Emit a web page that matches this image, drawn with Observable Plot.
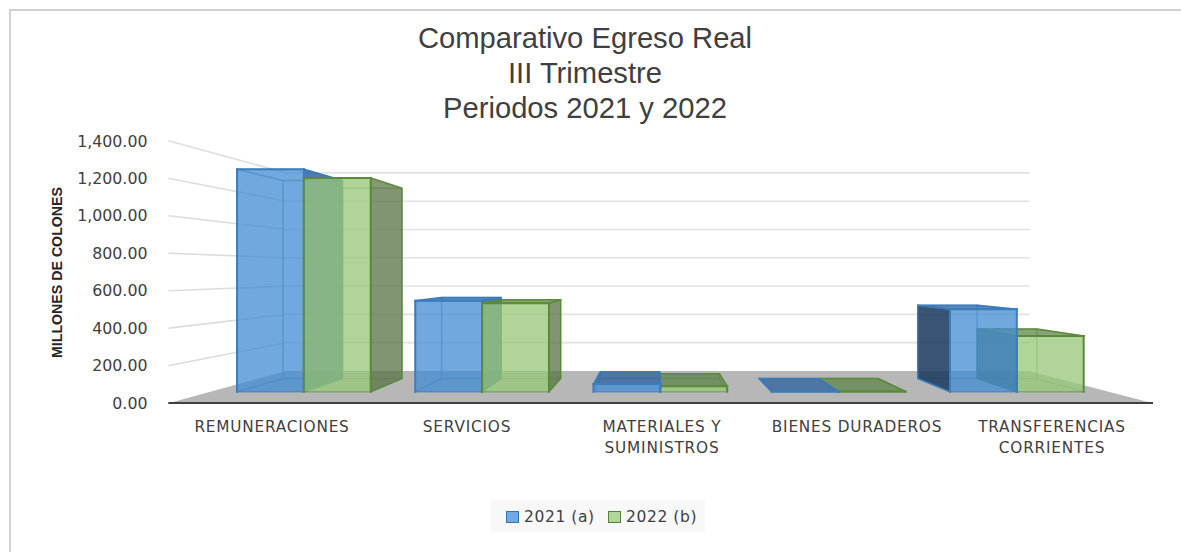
<!DOCTYPE html>
<html><head><meta charset="utf-8">
<script src="https://cdn.jsdelivr.net/npm/d3@7"></script>
<script src="https://cdn.jsdelivr.net/npm/@observablehq/plot@0.6"></script>
<style>
html,body{margin:0;padding:0;background:#fff}
#wrap{position:relative;width:1181px;height:552px;overflow:hidden;background:#fff}
#frame{position:absolute;left:8.5px;top:9px;right:-4px;bottom:-4px;border-left:2px solid #d2d2d2;border-top:2px solid #d2d2d2}
#title{position:absolute;left:0;width:1170px;top:20.5px;text-align:center;font:29.2px/35px "Liberation Sans",Arial,sans-serif;color:#404040}
#plot{position:absolute;left:0;top:130px}
#plot svg g[aria-label="x-axis tick label"]{letter-spacing:.8px}
#legend{position:absolute;left:491px;top:500px;width:214px;height:32px;background:#f8f8f8;font:15.5px/32px "DejaVu Sans",sans-serif;color:#404040}
#legend span{position:absolute;top:1px;white-space:nowrap;letter-spacing:.6px}
#legend i{position:absolute;top:11px;width:10.5px;height:9.5px;border:1.5px solid}
</style></head>
<body><div id="wrap"><div id="frame"></div>
<div id="title">Comparativo Egreso Real<br>III Trimestre<br>Periodos 2021 y 2022</div>
<div id="plot"></div>
<div id="legend"></div></div>
<script>
const categories = ["REMUNERACIONES","SERVICIOS","MATERIALES Y SUMINISTROS","BIENES DURADEROS","TRANSFERENCIAS CORRIENTES"];
const tickLabels = ["REMUNERACIONES","SERVICIOS","MATERIALES Y\nSUMINISTROS","BIENES DURADEROS","TRANSFERENCIAS\nCORRIENTES"];
const values2021 = [1300,532,45,1,482];
const values2022 = [1250,517,32,1,326];
const seriesNames = ["2021 (a)","2022 (b)"];
const yTicks = [0,200,400,600,800,1000,1200,1400];

const rows = categories.flatMap((category,i)=>[
  {category,year:0,value:values2021[i]},
  {category,year:1,value:values2022[i]}
]);

// Perspective of the 3-D box: screen point = vanishing point + (front-plane point - vanishing point) * s
const persp = {vx:647.5, barVx:655.9, vy:141.7, back:0.756, barFront:0.914, barBack:0.8138, barWidth:0.375, barShift:-0.75};
const P = (x,y,s,vx=persp.vx)=>[vx+(x-vx)*s, persp.vy+(y-persp.vy)*s];
const NS = "http://www.w3.org/2000/svg";
function poly(g,pts,fill,stroke,sw){
  const p=document.createElementNS(NS,"polygon");
  p.setAttribute("points",pts.map(d=>d.join(",")).join(" "));
  p.setAttribute("fill",fill); p.setAttribute("stroke",stroke||"none");
  p.setAttribute("stroke-width",sw||0); p.setAttribute("stroke-linejoin","round");
  g.appendChild(p);
}
function seg(g,a,b,stroke,sw){
  const l=document.createElementNS(NS,"line");
  l.setAttribute("x1",a[0]);l.setAttribute("y1",a[1]);l.setAttribute("x2",b[0]);l.setAttribute("y2",b[1]);
  l.setAttribute("stroke",stroke);l.setAttribute("stroke-width",sw);
  l.setAttribute("stroke-linecap","square");
  g.appendChild(l);
}
const faceStyles = [
 {front:"rgba(68,140,210,.75)",edge:"#3a7dbd",soft:"rgba(58,125,189,.55)",inner:"rgba(46,117,182,.3)",wash:"rgba(68,140,210,.05)",
  top:"rgba(50,100,160,.78)",sideR:"rgba(50,100,160,.85)",sideL:"rgba(30,60,95,.87)"},
 {front:"rgba(152,200,120,.75)",edge:"#5a8a3a",soft:"rgba(90,138,58,.4)",inner:"rgba(84,130,53,.25)",wash:"rgba(152,200,120,.05)",
  top:"rgba(90,130,70,.72)",sideR:"rgba(90,115,70,.75)",sideL:"rgba(60,90,50,.75)"}
];
const step = x => x(categories[1])-x(categories[0]);

function renderWalls(index,scales,values,dims){
  const g=document.createElementNS(NS,"g");
  const {x,y}=scales;
  const x0=x(categories[0])-4.75, x1=x(categories[categories.length-1])+step(x)+3;
  const y0=y(0);
  yTicks.filter(v=>v>0).forEach(v=>{
    const yv=y(v);
    seg(g,P(x0,yv,1),P(x0,yv,persp.back),"#dcdcdc",1.6);
    seg(g,P(x0,yv,persp.back),P(x1,yv,persp.back),"#e2e2e2",1.6);
  });
  poly(g,[P(x0,y0,1),P(x1,y0,1),P(x1,y0,persp.back),P(x0,y0,persp.back)],"#b7b7b7");
  seg(g,P(x0,y0,1),P(x1,y0,1),"#404040",2);
  return g;
}
function renderBars(index,scales,values,dims){
  const g=document.createElementNS(NS,"g");
  const {x,y}=scales, bw=step(x), w=bw*persp.barWidth, sf=persp.barFront, sb=persp.barBack, vx=persp.barVx;
  const bars=Array.from(index,i=>{
    const d=rows[i];
    const c=x(d.category)+bw/2+persp.barShift;
    return {...d,xl:d.year?c:c-w,xr:d.year?c+w:c};
  }).sort((a,b)=>Math.abs((b.xl+b.xr)/2-vx)-Math.abs((a.xl+a.xr)/2-vx));
  for(const b of bars){
    const st=faceStyles[b.year], yt=y(b.value), yb=y(0);
    const fl=[P(b.xl,yb,sf,vx),P(b.xr,yb,sf,vx),P(b.xr,yt,sf,vx),P(b.xl,yt,sf,vx)];
    const bk=[P(b.xl,yb,sb,vx),P(b.xr,yb,sb,vx),P(b.xr,yt,sb,vx),P(b.xl,yt,sb,vx)];
    poly(g,bk,st.wash,st.inner,1.5);
    poly(g,[fl[0],fl[1],bk[1],bk[0]],st.wash,st.inner,1.2);
    const leftOut=b.xl>vx, rightOut=b.xr<vx, topOut=yt>persp.vy;
    const L=[fl[0],bk[0],bk[3],fl[3]], R=[fl[1],bk[1],bk[2],fl[2]], T=[fl[3],fl[2],bk[2],bk[3]];
    poly(g,L,leftOut?st.sideL:st.wash,leftOut?st.edge:st.inner,1.5);
    poly(g,R,rightOut?st.sideR:st.wash,rightOut?st.edge:st.inner,1.5);
    poly(g,T,topOut?st.top:st.wash,topOut?st.edge:st.inner,1.5);
    poly(g,fl,st.front);
    seg(g,fl[0],fl[1],st.soft,1.5);
    seg(g,fl[0],fl[3],st.edge,2);
    seg(g,fl[1],fl[2],st.edge,2);
    seg(g,fl[2],fl[3],st.edge,2);
  }
  return g;
}

const chart = Plot.plot({
  width:1181, height:340,
  marginLeft:168, marginRight:31, marginTop:11, marginBottom:67,
  style:{fontFamily:'"DejaVu Sans",sans-serif',background:"transparent",color:"#404040",overflow:"visible"},
  x:{type:"band",domain:categories,range:[172.75,1150.25],padding:0,align:0.5,label:null},
  y:{domain:[0,1400],range:[273,11],label:null},
  marks:[
    Plot.ruleY(yTicks,{render:renderWalls}),
    Plot.rect(rows,{x:"category",y1:0,y2:"value",render:renderBars}),
    Plot.axisY({ticks:yTicks,tickSize:0,tickPadding:21,fontSize:15.8,tickFormat:d3.format(",.2f"),label:null,fill:"#404040"}),
    Plot.axisX({tickSize:0,tickPadding:12.5,fontSize:15.3,lineHeight:1.43,lineWidth:30,label:null,fill:"#404040",ariaLabel:"x-axis tick label",
      tickFormat:d=>tickLabels[categories.indexOf(d)]}),
    Plot.text(["MILLONES DE COLONES"],{frameAnchor:"left",textAnchor:"middle",dx:-111,rotate:-90,fontSize:14.2,fontWeight:"bold",fill:"#262626",
      fontFamily:'"Liberation Sans",sans-serif'})
  ]
});
document.getElementById("plot").appendChild(chart);
chart.querySelectorAll("g").forEach(g=>{
  const t=g.querySelector(":scope > text");
  if(t&&tickLabels.some(l=>l.startsWith((t.textContent||"").slice(0,6)))) g.style.letterSpacing=".8px";
});

const legend=document.getElementById("legend");
seriesNames.forEach((name,i)=>{
  const left=15+i*102;
  const sw=document.createElement("i");
  sw.style.left=left+"px";
  sw.style.background=i?"#b2d69a":"#73a9dd";
  sw.style.borderColor=i?"#548235":"#2e75b6";
  legend.appendChild(sw);
  const t=document.createElement("span");
  t.style.left=(left+18)+"px"; t.textContent=name;
  legend.appendChild(t);
});
</script></body></html>
